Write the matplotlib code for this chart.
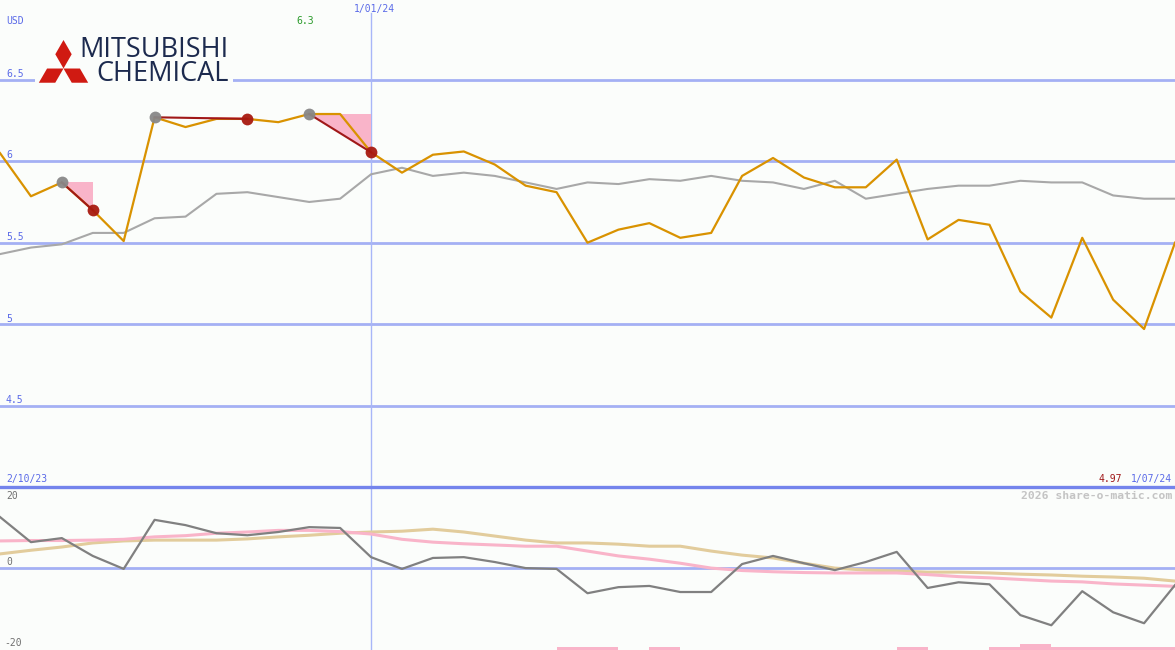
import matplotlib
matplotlib.use("Agg")
import matplotlib.pyplot as plt
from matplotlib.patches import Polygon, Rectangle
import numpy as np

W, H = 1175, 650
BG = "#fbfdfb"

# ---------------- data ----------------
price = [6.05, 5.785, 5.87, 5.70, 5.51, 6.27, 6.21, 6.26, 6.26, 6.24,
         6.29, 6.29, 6.055, 5.93, 6.04, 6.06, 5.98, 5.85, 5.81, 5.50,
         5.58, 5.62, 5.53, 5.56, 5.91, 6.02, 5.90, 5.84, 5.84, 6.01,
         5.52, 5.64, 5.61, 5.20, 5.04, 5.53, 5.15, 4.97, 5.50]
avg = [5.43, 5.47, 5.49, 5.56, 5.56, 5.65, 5.66, 5.80, 5.81, 5.78,
       5.75, 5.77, 5.92, 5.96, 5.91, 5.93, 5.91, 5.87, 5.83, 5.87,
       5.86, 5.89, 5.88, 5.91, 5.88, 5.87, 5.83, 5.88, 5.77, 5.80,
       5.83, 5.85, 5.85, 5.88, 5.87, 5.87, 5.79, 5.77, 5.77]
momentum = [12.6, 6.4, 7.4, 3.0, -0.2, 11.9, 10.6, 8.6, 8.1, 8.9,
            10.1, 9.9, 2.7, -0.2, 2.5, 2.7, 1.5, 0.0, -0.2, -6.2,
            -4.7, -4.4, -5.9, -5.9, 1.0, 3.0, 1.2, -0.5, 1.5, 4.0,
            -4.9, -3.5, -4.0, -11.6, -14.1, -5.7, -10.9, -13.6, -4.2]
mom_fast = [6.7, 6.8, 6.8, 6.9, 7.1, 7.7, 8.0, 8.6, 8.9, 9.3,
            9.3, 9.0, 8.4, 7.1, 6.4, 6.0, 5.7, 5.4, 5.4, 4.2,
            3.0, 2.2, 1.2, 0.0, -0.6, -0.9, -1.1, -1.2, -1.2, -1.2,
            -1.6, -2.1, -2.4, -2.8, -3.2, -3.4, -3.9, -4.2, -4.5]
mom_slow = [3.5, 4.4, 5.2, 6.2, 6.7, 6.9, 6.9, 6.9, 7.2, 7.7,
            8.1, 8.6, 8.9, 9.1, 9.6, 8.9, 7.9, 6.9, 6.2, 6.2,
            5.9, 5.4, 5.4, 4.2, 3.2, 2.5, 1.2, 0.0, -0.5, -0.7,
            -1.0, -1.0, -1.2, -1.5, -1.7, -2.0, -2.2, -2.5, -3.2]
signal_start = [2, 5, 10]
signal_end = [3, 8, 12]
bar_left = [18, 19, 21, 29, 32, 33, 34, 35, 36, 37]
bar_height = [1, 1, 1, 1, 1, 2, 1, 1, 1, 1]
price_ticks = [4.5, 5, 5.5, 6, 6.5]
price_tick_labels = ["4.5", "5", "5.5", "6", "6.5"]
date_start, date_mid, date_end = "2/10/23", "1/01/24", "1/07/24"
mid_index = 12
max_label, min_label = "6.3", "4.97"

x = np.arange(len(price))

# ---------------- figure ----------------
fig = plt.figure(figsize=(W / 100, H / 100), dpi=100, facecolor=BG)

def fx(px):
    return px / W

def fy(py):
    return 1 - py / H

top_h = 487
ax = fig.add_axes([0, fy(top_h), 1, top_h / H])
ax2 = fig.add_axes([0, 0, 1, (H - top_h) / H])
for a in (ax, ax2):
    a.set_facecolor(BG)
    a.set_xlim(0, len(price) - 1)
    for s in a.spines.values():
        s.set_visible(False)
    a.set_xticks([])
    a.set_yticks([])

ax.set_ylim(4.0, 6.99)
ax2.set_ylim(-20.2, 20.0)

grid_c = "#a4b0f4"
for t in price_ticks:
    ax.axhline(t, color=grid_c, lw=2.0, zorder=1)
ax2.axhline(0, color=grid_c, lw=2.0, zorder=1)

# vertical marker line
ax.axvline(mid_index, ymax=1 - 13 / top_h, color="#a8b6f8", lw=1.0, zorder=1)
ax2.axvline(mid_index, color="#a8b6f8", lw=1.0, zorder=1)

# signals
for s, e in zip(signal_start, signal_end):
    ax.add_patch(Polygon([(s, price[s]), (e, price[s]), (e, price[e])],
                         closed=True, facecolor="#f9b4c9", edgecolor="none", zorder=2))
ax.plot(x, avg, color="#a8a8a8", lw=1.5, zorder=3)
ax.plot(x, price, color="#d99200", lw=1.6, zorder=4)
for s, e in zip(signal_start, signal_end):
    ax.plot([s, e], [price[s], price[e]], color="#a01818", lw=1.5, zorder=5)
ax.plot(signal_start, [price[i] for i in signal_start], "o", ms=8.5,
        color="#888888", mec="none", zorder=6, alpha=0.95)
ax.plot(signal_end, [price[i] for i in signal_end], "o", ms=8.5,
        color="#a81a10", mec="none", zorder=6, alpha=0.95)

# lower panel
ax3 = ax2.twinx()
ax3.set_ylim(0, 54.3)
ax3.set_yticks([])
for s in ax3.spines.values():
    s.set_visible(False)
ax3.bar(bar_left, bar_height, width=1, align="edge", color="#f9b4c9", zorder=1)
ax2.plot(x, mom_slow, color="#e2cc9c", lw=2.2, zorder=3)
ax2.plot(x, mom_fast, color="#f9b4c9", lw=2.2, zorder=3)
ax2.plot(x, momentum, color="#808080", lw=1.6, zorder=4)
ax2.set_zorder(ax3.get_zorder() + 1)
ax2.patch.set_visible(False)

# separator line
fig.add_artist(plt.Line2D([0, 1], [fy(487), fy(487)], color="#7484ec", lw=2.4))

mono = "DejaVu Sans Mono"
blue = "#5a6ae8"
fs = 7
fig.text(fx(6), fy(21), "USD", color=blue, fontsize=fs, family=mono, va="center")
for t, lab in zip(price_ticks, price_tick_labels):
    ypx = 161.5 - (t - 6) * 163
    fig.text(fx(6), fy(ypx - 6), lab, color=blue, fontsize=fs, family=mono, va="center")
fig.text(fx(305), fy(21), max_label, color="#2a9a2a", fontsize=fs, family=mono,
         va="center", ha="center")
fig.text(fx(mid_index * W / (len(price) - 1) + 3), fy(9), date_mid, color=blue,
         fontsize=fs, family=mono, va="center", ha="center")
fig.text(fx(6), fy(479), date_start, color=blue, fontsize=fs, family=mono, va="center")
fig.text(fx(1172), fy(479), date_end, color=blue, fontsize=fs, family=mono,
         va="center", ha="right")
fig.text(fx(1122), fy(479), min_label, color="#a01818", fontsize=fs, family=mono,
         va="center", ha="right")
fig.text(fx(1172), fy(496), "2026 share-o-matic.com", color="#c4c4c4", fontsize=8.2,
         family=mono, weight="bold", va="center", ha="right")
gray_t = "#707070"
fig.text(fx(6), fy(496), "20", color=gray_t, fontsize=fs, family=mono, va="center")
fig.text(fx(6), fy(562), "0", color=gray_t, fontsize=fs, family=mono, va="center")
fig.text(fx(4), fy(643), "-20", color=gray_t, fontsize=fs, family=mono, va="center")

# logo
fig.add_artist(Rectangle((fx(35), fy(88)), fx(198), 50 / H, transform=fig.transFigure,
                         facecolor=BG, edgecolor="none", zorder=3))
cx, cy = 63.5, 68.5
L, hw = 28.5, 8.2
for ang in (90, 210, 330):
    ux, uy = np.cos(np.radians(ang)), -np.sin(np.radians(ang))
    px_, py_ = -uy, ux
    mx, my = cx + ux * L / 2, cy + uy * L / 2
    pts = [(cx, cy), (mx + px_ * hw, my + py_ * hw), (cx + ux * L, cy + uy * L),
           (mx - px_ * hw, my - py_ * hw)]
    fig.add_artist(Polygon([(fx(a), fy(b)) for a, b in pts], closed=True,
                           transform=fig.transFigure, facecolor="#d01a12",
                           edgecolor="none", zorder=4))
navy = "#1c2a4e"
fig.text(fx(229), fy(62), "MITSUBISHI\nCHEMICAL", color=navy, fontsize=19.5,
         family="Open Sans", va="center", ha="right", multialignment="right",
         linespacing=0.78, zorder=4)

fig.savefig("out.png", dpi=100, facecolor=BG)
